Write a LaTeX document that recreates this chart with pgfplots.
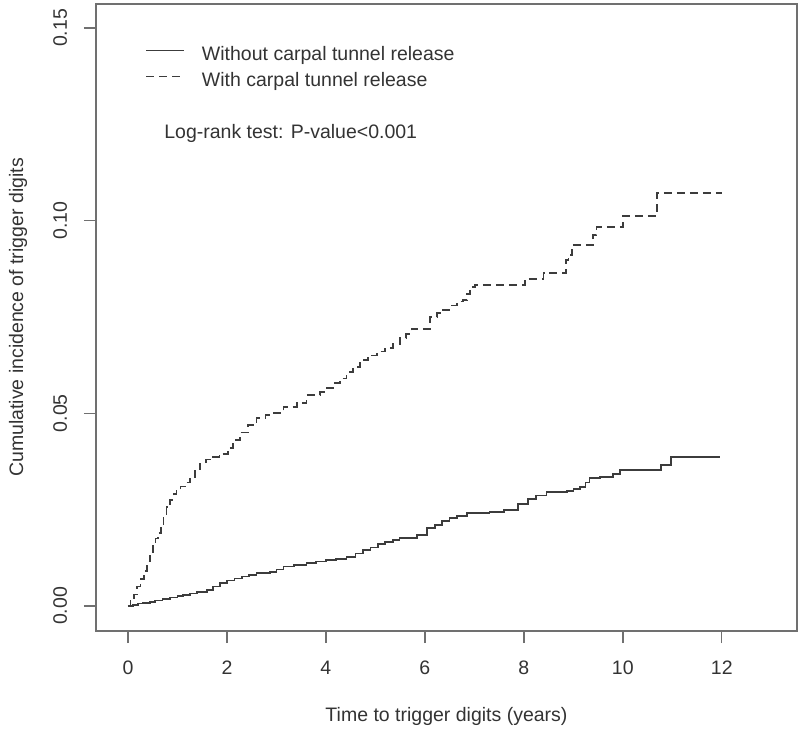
\documentclass[border=0pt]{standalone}
\usepackage{pgfplots}
\pgfplotsset{compat=1.18}
\usepackage{pgfplotstable}
\usepackage{fontspec}
\setmainfont{Liberation Sans}
\definecolor{curve}{HTML}{3C3C3C}
\definecolor{frame}{HTML}{707070}
\definecolor{txt}{HTML}{333333}

\pgfplotstableread{
x y
0 0
0.05 0.0015
0.12 0.003
0.18 0.005
0.25 0.007
0.32 0.009
0.38 0.0115
0.44 0.0138
0.50 0.0155
0.56 0.0175
0.61 0.019
0.67 0.021
0.72 0.0235
0.78 0.0257
0.85 0.0275
0.92 0.029
0.98 0.030
1.06 0.031
1.15 0.032
1.25 0.033
1.35 0.035
1.45 0.037
1.58 0.038
1.72 0.0387
1.85 0.0395
2.02 0.041
2.12 0.043
2.26 0.045
2.42 0.047
2.6 0.0488
2.78 0.0495
2.94 0.050
3.14 0.0517
3.41 0.0527
3.61 0.0548
3.88 0.0555
4.02 0.0565
4.15 0.0579
4.28 0.059
4.42 0.0607
4.55 0.062
4.69 0.0638
4.85 0.065
5.03 0.066
5.2 0.067
5.36 0.068
5.5 0.0696
5.62 0.0705
5.73 0.0719
6.1 0.075
6.25 0.076
6.37 0.0768
6.5 0.078
6.65 0.079
6.77 0.0794
6.85 0.081
6.91 0.0828
7.01 0.0833
8.02 0.0849
8.4 0.0864
8.85 0.0898
8.9 0.091
8.97 0.0937
9.4 0.0963
9.47 0.0984
10.0 0.1012
10.69 0.1072
12.0 0.1072
}\withctr

\pgfplotstableread{
x y
0 0
0.1 0.0003
0.2 0.0006
0.3 0.0008
0.44 0.001
0.55 0.0014
0.7 0.0018
0.85 0.0022
1.0 0.0026
1.11 0.0029
1.25 0.0032
1.4 0.0036
1.6 0.0042
1.72 0.005
1.86 0.006
2.0 0.0066
2.15 0.0071
2.3 0.0076
2.45 0.0081
2.6 0.0086
2.87 0.0088
3.0 0.0095
3.14 0.0102
3.35 0.0106
3.61 0.0111
3.8 0.0115
4.0 0.0119
4.2 0.0122
4.42 0.0127
4.6 0.0136
4.75 0.0145
4.9 0.0152
5.05 0.016
5.2 0.0166
5.35 0.0171
5.49 0.0176
5.84 0.0184
6.04 0.0202
6.2 0.021
6.35 0.022
6.5 0.0228
6.65 0.0234
6.85 0.0241
7.31 0.0244
7.6 0.0249
7.88 0.0265
8.08 0.0278
8.25 0.0287
8.46 0.0296
8.87 0.0298
9.0 0.0304
9.13 0.0309
9.25 0.032
9.33 0.0332
9.54 0.0335
9.8 0.0343
9.94 0.0353
10.77 0.0366
10.97 0.0387
11.96 0.0387
}\withoutctr

\begin{document}
\fontsize{9.75}{11.7}\selectfont
\begin{tikzpicture}
\path[use as bounding box] (0,0) rectangle (400pt,365pt);
\begin{axis}[
  at={(48pt,49.5pt)}, anchor=south west,
  scale only axis, width=350.5pt, height=313.5pt,
  xmin=-0.646, xmax=13.52, ymin=-0.0065, ymax=0.1562,
  axis line style={frame, line width=1pt},
  tick style={frame, line width=0.7pt},
  tick align=outside, major tick length=6pt,
  xtick pos=bottom, ytick pos=left,
  xtick={0,2,...,12}, ytick={0,0.05,0.1,0.15},
  yticklabel style={/pgf/number format/fixed, /pgf/number format/fixed zerofill, /pgf/number format/precision=2, rotate=90, anchor=south},
  /pgf/number format/assume math mode=true,
  ticklabel style={font=\fontsize{9.75}{11.7}\selectfont, text=txt},
  xticklabel shift=5.5pt,
  yticklabel shift=5pt,
  xlabel={Time to trigger digits (years)},
  ylabel={Cumulative incidence of trigger digits},
  label style={font=\fontsize{9.75}{11.7}\selectfont, text=txt},
  xlabel style={at={([yshift=-42.5pt]axis description cs:0.5,0)}, anchor=center},
  ylabel style={at={([xshift=-39pt]axis description cs:0,0.5)}, anchor=center},
  legend style={draw=none, fill=none, at={(axis description cs:0,1)}, anchor=north west,
    xshift=24.5pt, yshift=-21pt, inner sep=0pt, row sep=4pt,
    font=\fontsize{9.75}{11.7}\selectfont, text=txt,
    nodes={inner sep=0pt, text height=7pt, text depth=2pt},
    /tikz/every odd column/.append style={column sep=8.5pt}},
  legend cell align=left,
  legend image code/.code={\draw[#1] (0pt,2.5pt) -- (19pt,2.5pt);},
]
\addplot[const plot, color=curve, line width=0.8pt] table[x=x,y=y]{\withoutctr};
\addlegendentry{Without carpal tunnel release}
\addplot[const plot, color=curve, line width=0.8pt, dash pattern=on 4pt off 2.5pt] table[x=x,y=y]{\withctr};
\addlegendentry{With carpal tunnel release}
\node[anchor=west, inner sep=0pt, text=txt, font=\fontsize{9.75}{11.7}\selectfont] at (axis cs:0.727,0.1225) {Log-rank test: P-value<0.001};
\end{axis}
\end{tikzpicture}
\end{document}
